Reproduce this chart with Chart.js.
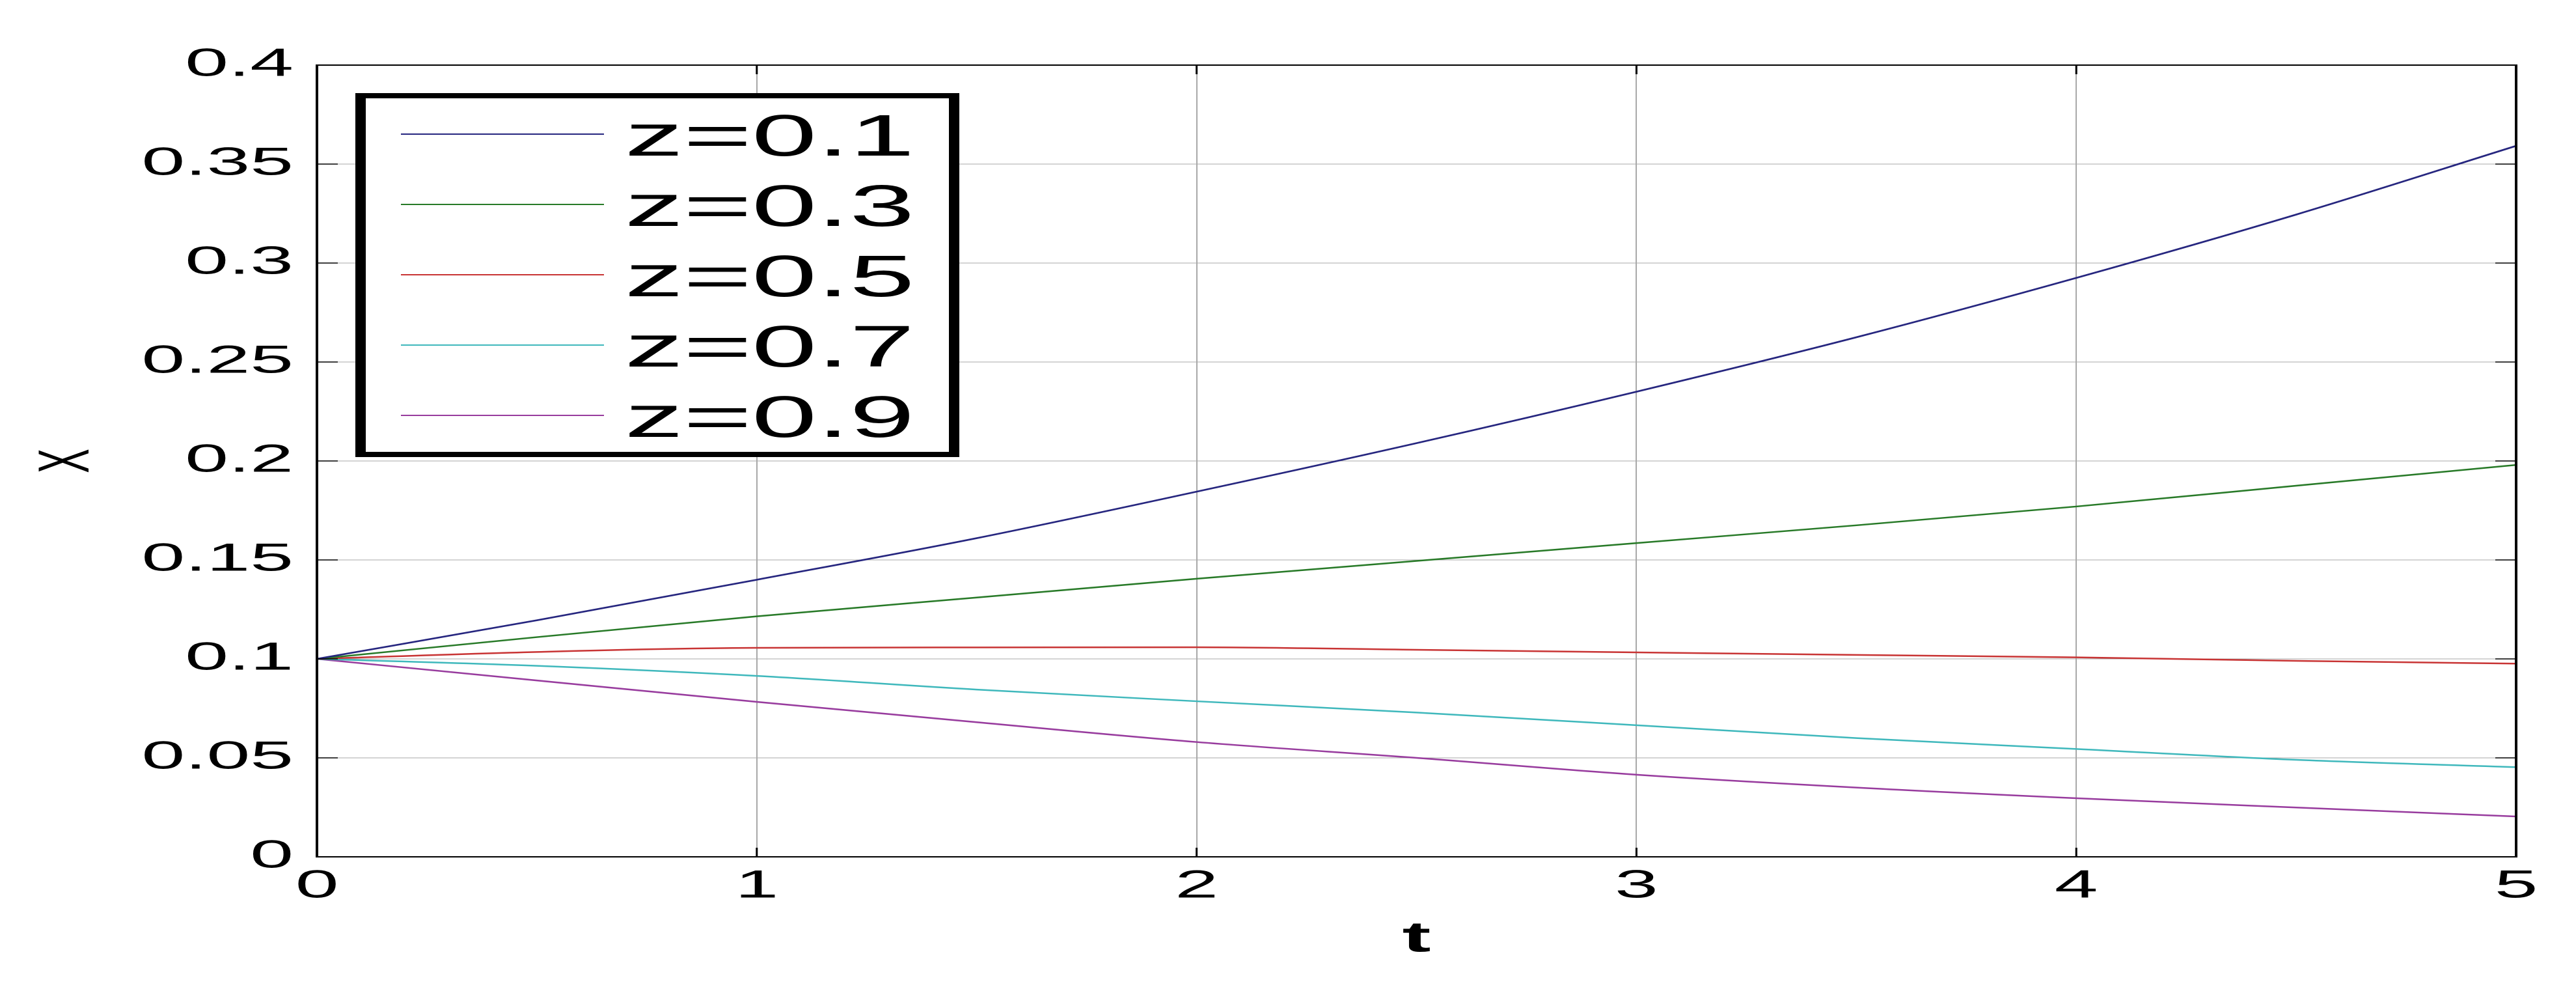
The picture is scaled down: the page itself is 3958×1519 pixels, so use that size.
<!DOCTYPE html>
<html>
<head>
<meta charset="utf-8">
<script src="https://cdn.jsdelivr.net/npm/chart.js@4.4.0/dist/chart.umd.min.js"></script>
<style>
  html, body { margin: 0; padding: 0; background: #fff; overflow: hidden; }
  /* the original figure is stretched sideways, so draw at half width and stretch */
  #wrap { width: 1979px; height: 1519px; transform: scaleX(2); transform-origin: 0 0; }
</style>
</head>
<body>
<div id="wrap"><canvas id="chart" width="1979" height="1519"></canvas></div>
<script>
const tValues = [0, 0.5, 1, 1.5, 2, 2.5, 3, 3.5, 4, 4.5, 5];
const z01 = [0.1, 0.1195, 0.140, 0.161, 0.1845, 0.209, 0.235, 0.2625, 0.2925, 0.3245, 0.3592];
const z03 = [0.1, 0.111, 0.1215, 0.131, 0.1405, 0.1495, 0.1585, 0.1675, 0.177, 0.1875, 0.198];
const z05 = [0.1, 0.1035, 0.1056, 0.1058, 0.1059, 0.1046, 0.1033, 0.102, 0.1008, 0.099, 0.0976];
const z07 = [0.1, 0.0965, 0.0914, 0.0845, 0.0786, 0.0729, 0.0665, 0.060, 0.0545, 0.049, 0.0453];
const z09 = [0.1, 0.0891, 0.0783, 0.068, 0.058, 0.050, 0.0415, 0.035, 0.0296, 0.0249, 0.0204];
const seriesNames = ['z=0.1', 'z=0.3', 'z=0.5', 'z=0.7', 'z=0.9'];
const xTickLabels = ['0', '1', '2', '3', '4', '5'];
const yTickLabels = ['0', '0.05', '0.1', '0.15', '0.2', '0.25', '0.3', '0.35', '0.4'];

const colors = ['#26267f', '#287a28', '#c83434', '#3fb8bc', '#983c9e'];
const series = [z01, z03, z05, z07, z09];

function pts(vals) {
    return vals.map((v, i) => ({ x: tValues[i], y: v }));
}

const FONT = '"Liberation Sans", Arial, sans-serif';

// box round the plot, inward ticks and the legend (matlab style)
const matlabBox = {
    id: 'matlabBox',
    afterDraw(chart) {
        const { ctx, chartArea: a, scales } = chart;
        const x = scales.x, y = scales.y;
        ctx.save();
        ctx.strokeStyle = '#000';
        ctx.lineWidth = 1.5;
        ctx.beginPath();
        x.ticks.forEach(tk => {
            const px = x.getPixelForValue(tk.value);
            ctx.moveTo(px, a.bottom); ctx.lineTo(px, a.bottom - 14);
            ctx.moveTo(px, a.top); ctx.lineTo(px, a.top + 14);
        });
        y.ticks.forEach(tk => {
            const py = y.getPixelForValue(tk.value);
            ctx.moveTo(a.left, py); ctx.lineTo(a.left + 16, py);
            ctx.moveTo(a.right, py); ctx.lineTo(a.right - 16, py);
        });
        ctx.stroke();
        ctx.lineWidth = 2;
        ctx.strokeRect(a.left, a.top, a.right - a.left, a.bottom - a.top);

        // legend
        const bx = 277, by = 147, bw = 456, bh = 551;
        ctx.fillStyle = '#fff';
        ctx.fillRect(bx, by, bw, bh);
        ctx.lineWidth = 8;
        ctx.strokeRect(bx, by, bw, bh);
        chart.data.datasets.forEach((ds, i) => {
            const ly = 206 + i * 108;
            ctx.strokeStyle = ds.borderColor;
            ctx.lineWidth = 2;
            ctx.beginPath();
            ctx.moveTo(308, ly); ctx.lineTo(464, ly);
            ctx.stroke();
            ctx.fillStyle = '#000';
            ctx.font = '90px ' + FONT;
            ctx.textBaseline = 'alphabetic';
            ctx.textAlign = 'left';
            ctx.fillText(ds.label, 480, ly + 33);
        });
        ctx.restore();
    }
};

new Chart(
    document.getElementById('chart'),
    {
        type: 'line',
        data: {
            datasets: series.map((s, i) => ({
                label: seriesNames[i],
                data: pts(s),
                borderColor: colors[i],
                backgroundColor: colors[i],
                borderWidth: 2.5,
                pointRadius: 0,
                fill: false,
                cubicInterpolationMode: 'monotone'
            }))
        },
        options: {
            responsive: false,
            devicePixelRatio: 2,
            animation: false,
            layout: { padding: { top: 100, right: 46, bottom: 0, left: 0 } },
            plugins: {
                legend: { display: false },
                tooltip: { enabled: false }
            },
            scales: {
                x: {
                    type: 'linear',
                    min: 0,
                    max: 5,
                    afterFit: s => { s.height = 203; },
                    border: { display: false },
                    grid: { color: '#a8a8a8', lineWidth: 1, borderDash: [1.5, 4.5], drawTicks: false },
                    ticks: {
                        stepSize: 1,
                        padding: 10,
                        color: '#000',
                        font: { family: FONT, size: 60 },
                        callback: (v, i) => xTickLabels[i]
                    },
                    title: {
                        display: true,
                        text: 't',
                        color: '#000',
                        font: { family: FONT, size: 66, weight: 'bold' },
                        padding: { top: 0, bottom: 36 }
                    }
                },
                y: {
                    min: 0,
                    max: 0.4,
                    afterFit: s => { s.width = 243.5; },
                    border: { display: false },
                    grid: { color: '#a8a8a8', lineWidth: 1, borderDash: [1.5, 4.5], drawTicks: false },
                    ticks: {
                        stepSize: 0.05,
                        padding: 18,
                        color: '#000',
                        font: { family: FONT, size: 60 },
                        callback: (v, i) => yTickLabels[i]
                    },
                    title: {
                        display: true,
                        text: 'X',
                        color: '#000',
                        font: { family: FONT, size: 56 },
                        padding: { top: 19, bottom: 0 }
                    }
                }
            }
        },
        plugins: [matlabBox]
    }
);
</script>
</body>
</html>
